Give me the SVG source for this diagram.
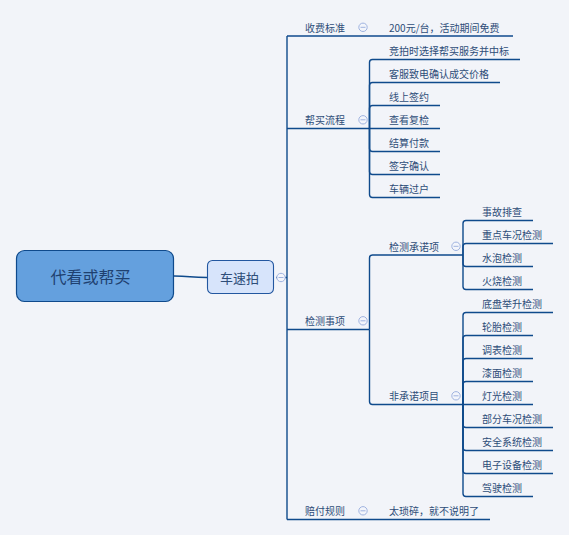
<svg xmlns="http://www.w3.org/2000/svg" width="569" height="535" viewBox="0 0 569 535">
<style>
.t{font-family:"Noto Sans CJK SC","Noto Sans",sans-serif;font-size:10px;fill:#2e4d78;dominant-baseline:central}
.ln{fill:none;stroke:#0f4a8c;stroke-width:1.4}
.cc{fill:#f3f5fb;stroke:#9fb3e0;stroke-width:1}
.cm{stroke:#9fb3e0;stroke-width:1}
</style>
<rect width="569" height="535" fill="#f2f4f9"/>
<g id="connectors">
<path class="ln" d="M174 276 C190 276 190 277.5 207 277.5"/>
<path class="ln" d="M276 277.5 H287"/>
<path class="ln" d="M287 36 V519.5"/>
<path class="ln" d="M287 36 H513"/>
<path class="ln" d="M287 128.5 H369.5"/>
<path class="ln" d="M287 329.5 H369.5"/>
<path class="ln" d="M287 519.5 H490"/>
<path class="ln" d="M369.5 128.5 V62.5 Q369.5 59.5 372.5 59.5 H520"/>
<path class="ln" d="M369.5 128.5 V85.5 Q369.5 82.5 372.5 82.5 H500"/>
<path class="ln" d="M369.5 128.5 V108.5 Q369.5 105.5 372.5 105.5 H440"/>
<path class="ln" d="M369.5 128.5 H440"/>
<path class="ln" d="M369.5 128.5 V148.5 Q369.5 151.5 372.5 151.5 H440"/>
<path class="ln" d="M369.5 128.5 V171.5 Q369.5 174.5 372.5 174.5 H440"/>
<path class="ln" d="M369.5 128.5 V194.5 Q369.5 197.5 372.5 197.5 H440"/>
<path class="ln" d="M369.5 329.5 V258 Q369.5 255 372.5 255 H463"/>
<path class="ln" d="M369.5 329.5 V401.5 Q369.5 404.5 372.5 404.5 H463"/>
<path class="ln" d="M463 255 V223.5 Q463 220.5 466 220.5 H533"/>
<path class="ln" d="M463 255 V246.5 Q463 243.5 466 243.5 H553"/>
<path class="ln" d="M463 255 V263.5 Q463 266.5 466 266.5 H533"/>
<path class="ln" d="M463 255 V286.5 Q463 289.5 466 289.5 H533"/>
<path class="ln" d="M463 404.5 V315.5 Q463 312.5 466 312.5 H553"/>
<path class="ln" d="M463 404.5 V338.5 Q463 335.5 466 335.5 H533"/>
<path class="ln" d="M463 404.5 V361.5 Q463 358.5 466 358.5 H533"/>
<path class="ln" d="M463 404.5 V384.5 Q463 381.5 466 381.5 H533"/>
<path class="ln" d="M463 404.5 H533"/>
<path class="ln" d="M463 404.5 V424.5 Q463 427.5 466 427.5 H553"/>
<path class="ln" d="M463 404.5 V447.5 Q463 450.5 466 450.5 H553"/>
<path class="ln" d="M463 404.5 V470.5 Q463 473.5 466 473.5 H553"/>
<path class="ln" d="M463 404.5 V493.5 Q463 496.5 466 496.5 H533"/>
</g>
<g id="root">
<rect x="16.5" y="250.5" width="157" height="51" rx="8" fill="#64a0de" stroke="#0f4a8c" stroke-width="1.2"/>
<text x="90.5" y="276" text-anchor="middle" style="font-family:'Noto Sans CJK SC','Noto Sans',sans-serif;font-size:16px;fill:#1f4170;dominant-baseline:central">代看或帮买</text>
</g>
<g id="n-chesupai">
<rect x="207.5" y="260.5" width="66" height="33" rx="5" fill="#d7e4fb" stroke="#2357a0" stroke-width="1.1"/>
<text x="239.5" y="277.5" text-anchor="middle" style="font-family:'Noto Sans CJK SC','Noto Sans',sans-serif;font-size:13px;fill:#2e4d78;dominant-baseline:central">车速拍</text>
<circle class="cc" cx="281" cy="277.5" r="4.2"/><path class="cm" d="M278.5 277.5 H283.5"/>
</g>
<g id="n-shoufei">
<text class="t" x="305" y="27.3">收费标准</text>
<circle class="cc" cx="363" cy="27.3" r="4.2"/><path class="cm" d="M360.5 27.3 H365.5"/>
</g>
<g id="n-shoufei-1"><text class="t" x="389" y="27.3">200元/台，活动期间免费</text></g>
<g id="n-bangmai">
<text class="t" x="305" y="119.8">帮买流程</text>
<circle class="cc" cx="363" cy="119.8" r="4.2"/><path class="cm" d="M360.5 119.8 H365.5"/>
</g>
<g id="n-bm1"><text class="t" x="389" y="50.8">竞拍时选择帮买服务并中标</text></g>
<g id="n-bm2"><text class="t" x="389" y="73.8">客服致电确认成交价格</text></g>
<g id="n-bm3"><text class="t" x="389" y="96.8">线上签约</text></g>
<g id="n-bm4"><text class="t" x="389" y="119.8">查看复检</text></g>
<g id="n-bm5"><text class="t" x="389" y="142.8">结算付款</text></g>
<g id="n-bm6"><text class="t" x="389" y="165.8">签字确认</text></g>
<g id="n-bm7"><text class="t" x="389" y="188.8">车辆过户</text></g>
<g id="n-jiance">
<text class="t" x="305" y="320.8">检测事项</text>
<circle class="cc" cx="363" cy="320.8" r="4.2"/><path class="cm" d="M360.5 320.8 H365.5"/>
</g>
<g id="n-chengnuo">
<text class="t" x="389" y="246.3">检测承诺项</text>
<circle class="cc" cx="456" cy="246.3" r="4.2"/><path class="cm" d="M453.5 246.3 H458.5"/>
</g>
<g id="n-cn1"><text class="t" x="482" y="211.8">事故排查</text></g>
<g id="n-cn2"><text class="t" x="482" y="234.8">重点车况检测</text></g>
<g id="n-cn3"><text class="t" x="482" y="257.8">水泡检测</text></g>
<g id="n-cn4"><text class="t" x="482" y="280.8">火烧检测</text></g>
<g id="n-feichengnuo">
<text class="t" x="389" y="395.8">非承诺项目</text>
<circle class="cc" cx="456" cy="395.8" r="4.2"/><path class="cm" d="M453.5 395.8 H458.5"/>
</g>
<g id="n-f1"><text class="t" x="482" y="303.8">底盘举升检测</text></g>
<g id="n-f2"><text class="t" x="482" y="326.8">轮胎检测</text></g>
<g id="n-f3"><text class="t" x="482" y="349.8">调表检测</text></g>
<g id="n-f4"><text class="t" x="482" y="372.8">漆面检测</text></g>
<g id="n-f5"><text class="t" x="482" y="395.8">灯光检测</text></g>
<g id="n-f6"><text class="t" x="482" y="418.8">部分车况检测</text></g>
<g id="n-f7"><text class="t" x="482" y="441.8">安全系统检测</text></g>
<g id="n-f8"><text class="t" x="482" y="464.8">电子设备检测</text></g>
<g id="n-f9"><text class="t" x="482" y="487.8">驾驶检测</text></g>
<g id="n-peifu">
<text class="t" x="305" y="510.8">赔付规则</text>
<circle class="cc" cx="363" cy="510.8" r="4.2"/><path class="cm" d="M360.5 510.8 H365.5"/>
</g>
<g id="n-peifu-1"><text class="t" x="389" y="510.8">太琐碎，就不说明了</text></g>
</svg>
